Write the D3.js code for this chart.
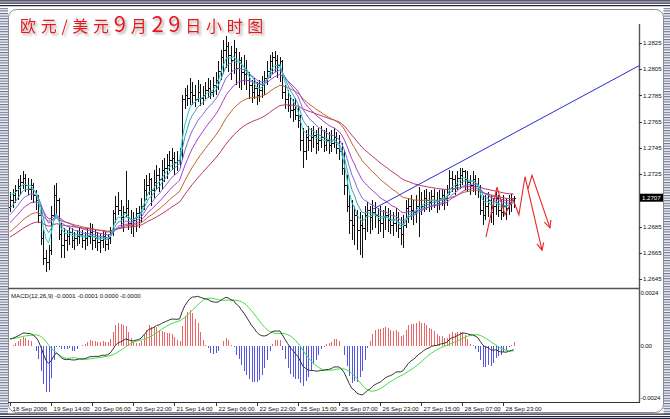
<!DOCTYPE html>
<html><head><meta charset="utf-8">
<script src="https://cdn.jsdelivr.net/npm/d3@7"></script>
<style>
body{margin:0;background:#fff}
svg{display:block}
.ax text{font-family:"Liberation Sans",Arial,sans-serif;font-size:6.1px;fill:#111}
</style>
</head><body><svg id="c" width="670" height="419"></svg>
<script>
// ---------- data (EUR/USD hourly, 18 Sep 22:00 – 29 Sep 2006) ----------
const high = [
1.2711,1.2714,1.2717,1.2721,1.2724,1.2727,1.2725,1.2722,1.2721,1.2718,
1.2713,1.2709,1.2701,1.2682,1.2667,1.2671,1.2701,1.2717,1.2718,1.2707,
1.2688,1.2684,1.2682,1.2685,1.2684,1.2681,1.2682,1.2684,1.2682,1.2681,
1.2684,1.2688,1.2687,1.2682,1.2681,1.2679,1.2682,1.2681,1.2679,1.2685,
1.2698,1.2708,1.2711,1.2705,1.2701,1.2727,1.2705,1.2698,1.2696,1.2699,
1.2701,1.2707,1.2721,1.2724,1.2726,1.2722,1.2728,1.2732,1.2730,1.2736,
1.2737,1.2740,1.2743,1.2745,1.2742,1.2743,1.2745,1.2785,1.2791,1.2793,
1.2798,1.2795,1.2793,1.2797,1.2794,1.2792,1.2795,1.2798,1.2797,1.2799,
1.2803,1.2811,1.2820,1.2827,1.2830,1.2826,1.2823,1.2827,1.2821,1.2818,
1.2814,1.2816,1.2812,1.2803,1.2797,1.2798,1.2795,1.2797,1.2800,1.2804,
1.2811,1.2816,1.2818,1.2819,1.2816,1.2814,1.2812,1.2793,1.2789,1.2785,
1.2782,1.2783,1.2778,1.2770,1.2760,1.2759,1.2762,1.2760,1.2762,1.2759,
1.2760,1.2762,1.2759,1.2760,1.2757,1.2759,1.2760,1.2757,1.2755,1.2749,
1.2743,1.2724,1.2709,1.2705,1.2701,1.2698,1.2696,1.2694,1.2701,1.2704,
1.2701,1.2705,1.2704,1.2699,1.2701,1.2698,1.2701,1.2699,1.2698,1.2696,
1.2699,1.2696,1.2692,1.2694,1.2705,1.2707,1.2709,1.2705,1.2709,1.2715,
1.2711,1.2713,1.2714,1.2711,1.2713,1.2714,1.2711,1.2713,1.2714,1.2713,
1.2717,1.2728,1.2727,1.2724,1.2727,1.2730,1.2730,1.2728,1.2727,1.2724,
1.2727,1.2724,1.2722,1.2717,1.2709,1.2709,1.2711,1.2709,1.2707,1.2711,
1.2709,1.2705,1.2709,1.2707,1.2709,1.2710,1.2708];
const low = [
1.2696,1.2699,1.2703,1.2705,1.2709,1.2714,1.2711,1.2709,1.2705,1.2703,
1.2698,1.2688,1.2671,1.2656,1.2650,1.2652,1.2663,1.2690,1.2694,1.2675,
1.2661,1.2661,1.2666,1.2671,1.2669,1.2667,1.2670,1.2672,1.2669,1.2667,
1.2670,1.2672,1.2667,1.2669,1.2666,1.2665,1.2669,1.2666,1.2667,1.2672,
1.2678,1.2688,1.2694,1.2684,1.2681,1.2692,1.2682,1.2679,1.2677,1.2681,
1.2684,1.2688,1.2698,1.2705,1.2709,1.2701,1.2707,1.2713,1.2711,1.2714,
1.2719,1.2721,1.2727,1.2728,1.2724,1.2727,1.2730,1.2736,1.2775,1.2777,
1.2778,1.2778,1.2776,1.2780,1.2777,1.2778,1.2782,1.2783,1.2782,1.2784,
1.2785,1.2789,1.2797,1.2801,1.2806,1.2803,1.2797,1.2801,1.2793,1.2791,
1.2789,1.2793,1.2789,1.2782,1.2779,1.2782,1.2778,1.2780,1.2783,1.2785,
1.2793,1.2798,1.2801,1.2803,1.2798,1.2795,1.2782,1.2775,1.2772,1.2768,
1.2765,1.2766,1.2760,1.2743,1.2730,1.2736,1.2743,1.2742,1.2745,1.2740,
1.2743,1.2745,1.2742,1.2743,1.2740,1.2742,1.2745,1.2740,1.2736,1.2724,
1.2709,1.2696,1.2679,1.2675,1.2671,1.2667,1.2663,1.2661,1.2675,1.2681,
1.2679,1.2682,1.2684,1.2679,1.2681,1.2676,1.2682,1.2681,1.2679,1.2678,
1.2681,1.2676,1.2671,1.2669,1.2684,1.2688,1.2690,1.2686,1.2688,1.2677,
1.2694,1.2696,1.2698,1.2696,1.2698,1.2699,1.2695,1.2698,1.2701,1.2698,
1.2701,1.2709,1.2711,1.2709,1.2713,1.2714,1.2717,1.2713,1.2711,1.2709,
1.2711,1.2709,1.2707,1.2694,1.2686,1.2690,1.2692,1.2688,1.2686,1.2694,
1.2692,1.2690,1.2692,1.2690,1.2694,1.2696,1.2699];
const close = [
1.2705,1.2709,1.2713,1.2716,1.2719,1.2722,1.2717,1.2714,1.2717,1.2709,
1.2705,1.2694,1.2676,1.2661,1.2658,1.2667,1.2694,1.2709,1.2705,1.2679,
1.2671,1.2675,1.2678,1.2681,1.2675,1.2676,1.2678,1.2679,1.2675,1.2676,
1.2678,1.2681,1.2675,1.2676,1.2673,1.2675,1.2678,1.2672,1.2676,1.2682,
1.2695,1.2701,1.2698,1.2692,1.2696,1.2699,1.2688,1.2686,1.2690,1.2695,
1.2696,1.2701,1.2713,1.2717,1.2721,1.2713,1.2719,1.2724,1.2721,1.2728,
1.2730,1.2732,1.2736,1.2737,1.2734,1.2736,1.2740,1.2782,1.2785,1.2783,
1.2788,1.2785,1.2782,1.2788,1.2783,1.2785,1.2789,1.2791,1.2788,1.2793,
1.2797,1.2804,1.2814,1.2820,1.2823,1.2816,1.2812,1.2818,1.2806,1.2812,
1.2803,1.2801,1.2797,1.2793,1.2788,1.2791,1.2785,1.2789,1.2793,1.2798,
1.2804,1.2811,1.2814,1.2812,1.2808,1.2811,1.2788,1.2782,1.2778,1.2774,
1.2775,1.2770,1.2766,1.2751,1.2743,1.2753,1.2751,1.2753,1.2755,1.2749,
1.2751,1.2753,1.2747,1.2751,1.2747,1.2749,1.2753,1.2745,1.2743,1.2730,
1.2717,1.2701,1.2690,1.2686,1.2694,1.2682,1.2686,1.2684,1.2694,1.2698,
1.2692,1.2696,1.2694,1.2690,1.2688,1.2692,1.2694,1.2690,1.2686,1.2688,
1.2692,1.2684,1.2679,1.2686,1.2699,1.2701,1.2698,1.2696,1.2701,1.2705,
1.2701,1.2707,1.2705,1.2704,1.2708,1.2705,1.2703,1.2707,1.2709,1.2707,
1.2711,1.2722,1.2721,1.2717,1.2722,1.2724,1.2727,1.2721,1.2719,1.2717,
1.2721,1.2716,1.2713,1.2698,1.2694,1.2701,1.2705,1.2696,1.2701,1.2707,
1.2698,1.2696,1.2701,1.2699,1.2704,1.2705,1.2707];
const firstOpen = 1.2700;
const timeLabels = ["18 Sep 2006","19 Sep 14:00","20 Sep 06:00","20 Sep 22:00","21 Sep 14:00",
  "22 Sep 06:00","22 Sep 22:00","25 Sep 15:00","26 Sep 07:00","26 Sep 23:00","27 Sep 15:00",
  "28 Sep 07:00","28 Sep 23:00"];
const labelEvery = 16;
const priceTicks = [1.2645,1.2665,1.2685,1.2725,1.2745,1.2765,1.2785,1.2805,1.2825];
const lastPrice = 1.2707;
const macdTicks = [0.0024,0,-0.0024];
const macdTickLabels = ["0.0024","0.00","-0.0024"];
// moving averages (EMA) – periods and values at first visible bar
const maPeriods = [5,8,13,21,34,55];
const maSeeds = [1.2710,1.2699,1.2694,1.2688,1.2681,1.2677];
// MACD(12,26,9): EMA12 / EMA26 values at first visible bar
const macdParams = [12,26,9];
const macdSeeds = [1.2703,1.2700];
const histGain = 2.5;
// annotations (bar index, price)
const trendAnchors = [[141,1.2698],[176,1.2735]];
const arrowA = [[185.2,1.2677],[189.5,1.2715],[192.6,1.2694],[195.7,1.2706],[198,1.2694],[200.4,1.2723],[207,1.2667]];
const arrowB = [[201.6,1.2714],[203.1,1.2724],[210.1,1.2684]];
const title = [["欧元/美元",16],["9",22],["月",16],["29",22],["日小时图",16]];
const macdTitle = "MACD(12,26,9) -0.0001 -0.0001 0.0000 -0.0000";

// ---------- styles ----------
const maColors = ["#28cccc","#3c9fb4","#7a6ae0","#a63cc8","#c0602c","#c0306a"];

// ---------- scales ----------
const svg = d3.select("#c");
const N = close.length;
const L = 8, R = 639, T = 24, PB = 288, MT = 290, MB = 402;
const x = d3.scaleLinear().domain([0, N-1]).range([10, 10 + (N-1)*2.57]);
const y = d3.scaleLinear().domain([1.2645, 1.2825]).range([279, 43]);
const ym = d3.scaleLinear().domain([-0.0024, 0.0024]).range([398, 293]);

const defs = svg.append("defs");
defs.append("clipPath").attr("id","cpMain").append("rect").attr("x",L).attr("y",T).attr("width",R-L).attr("height",PB-T);
defs.append("clipPath").attr("id","cpMacd").append("rect").attr("x",L).attr("y",MT).attr("width",R-L).attr("height",MB-MT);
const f = defs.append("filter").attr("id","sh").attr("x","-10%").attr("y","-20%").attr("width","130%").attr("height","160%");
f.append("feDropShadow").attr("dx",2).attr("dy",2).attr("stdDeviation",1.3).attr("flood-color","#777").attr("flood-opacity",0.6);
const pat = defs.append("pattern").attr("id","stripes").attr("width",4).attr("height",2.6).attr("patternUnits","userSpaceOnUse");
pat.append("rect").attr("width",4).attr("height",2.6).attr("fill","#f4f4f8");
pat.append("rect").attr("width",4).attr("height",1.1).attr("fill","#6b7190");

svg.append("rect").attr("width",670).attr("height",419).attr("fill","#fff");

// ---------- indicators computed from closes ----------
function ema(src, p, seed){ const k = 2/(p+1); let e = seed; return src.map((v,i)=> i===0 ? e : (e = e + k*(v-e))); }
const mas = maPeriods.map((p,j)=> ema(close, p, maSeeds[j]));
const e12 = ema(close, macdParams[0], macdSeeds[0]);
const e26 = ema(close, macdParams[1], macdSeeds[1]);
const macd = e12.map((v,i)=> v - e26[i]);
const signal = macd.map((v,i)=> d3.mean(macd.slice(Math.max(0,i-macdParams[2]+1), i+1)));
const hist = macd.map((v,i)=> histGain*(v - signal[i]));

// ---------- main panel ----------
const gm = svg.append("g").attr("clip-path","url(#cpMain)");
const px = i => Math.round(x(i)) + 0.5;
const bars = gm.append("g").attr("stroke","#111").attr("stroke-width",1).attr("shape-rendering","crispEdges");
close.forEach((c,i)=>{
  const o = i===0 ? firstOpen : close[i-1];
  const xi = px(i);
  bars.append("line").attr("x1",xi).attr("x2",xi).attr("y1",y(high[i])).attr("y2",y(low[i]));
  bars.append("line").attr("x1",xi-1.2).attr("x2",xi).attr("y1",Math.round(y(o))+0.5).attr("y2",Math.round(y(o))+0.5);
  bars.append("line").attr("x1",xi).attr("x2",xi+1.2).attr("y1",Math.round(y(c))+0.5).attr("y2",Math.round(y(c))+0.5);
});
const line = d3.line().x((d,i)=>x(i)).y(d=>y(d));
mas.slice().reverse().forEach((m,k)=>{
  gm.append("path").attr("d",line(m)).attr("fill","none").attr("stroke",maColors[maColors.length-1-k]).attr("stroke-width",1);
});
// trend line (ray to right edge)
const slope = (trendAnchors[1][1]-trendAnchors[0][1])/(trendAnchors[1][0]-trendAnchors[0][0]);
const iEnd = x.invert(R);
gm.append("line").attr("x1",x(trendAnchors[0][0])).attr("y1",y(trendAnchors[0][1]))
  .attr("x2",x(iEnd)).attr("y2",y(trendAnchors[0][1] + slope*(iEnd-trendAnchors[0][0])))
  .attr("stroke","#2a2ad8").attr("stroke-width",1);
// red arrows
const aLine = d3.line().x(d=>x(d[0])).y(d=>y(d[1]));
function arrow(pts){
  gm.append("path").attr("d",aLine(pts)).attr("fill","none").attr("stroke","#e8262a").attr("stroke-width",1.1);
  const a = pts[pts.length-2], b = pts[pts.length-1];
  const ax = x(a[0]), ay = y(a[1]), bx = x(b[0]), by = y(b[1]);
  const ang = Math.atan2(by-ay, bx-ax), len = 8, spread = 0.45;
  const p1 = [bx - len*Math.cos(ang-spread), by - len*Math.sin(ang-spread)];
  const p2 = [bx - len*Math.cos(ang+spread), by - len*Math.sin(ang+spread)];
  gm.append("path").attr("d",`M${p1}L${bx},${by}L${p2}`).attr("fill","none").attr("stroke","#e8262a").attr("stroke-width",1.1);
}
arrow(arrowA); arrow(arrowB);

// ---------- MACD panel ----------
const gd = svg.append("g").attr("clip-path","url(#cpMacd)");
const hg = gd.append("g").attr("shape-rendering","crispEdges");
hist.forEach((h,i)=>{
  hg.append("line").attr("x1",px(i)).attr("x2",px(i)).attr("y1",ym(0)).attr("y2",ym(h))
    .attr("stroke", h>=0 ? "#ee6464" : "#5454e6").attr("stroke-width",1);
});
const mline = d3.line().x((d,i)=>x(i)).y(d=>ym(d));
gd.append("path").attr("d",mline(signal)).attr("fill","none").attr("stroke","#3ee03e").attr("stroke-width",1);
gd.append("path").attr("d",mline(macd)).attr("fill","none").attr("stroke","#333").attr("stroke-width",1);

// ---------- outer frame (stripes first so labels stay readable) ----------
svg.append("rect").attr("x",0).attr("y",8).attr("width",8).attr("height",406).attr("fill","url(#stripes)");
svg.append("rect").attr("x",663.5).attr("y",8).attr("width",6.5).attr("height",406).attr("fill","url(#stripes)");
svg.append("rect").attr("x",8.5).attr("y",9.5).attr("width",655).attr("height",403).attr("rx",8)
  .attr("fill","none").attr("stroke","#8a8a8a").attr("stroke-width",1);
[0.8,3.2,5.6].forEach(v=> svg.append("line").attr("x1",0).attr("x2",670).attr("y1",v).attr("y2",v).attr("stroke","#23233f").attr("stroke-width",1.3));
[414.2,416.6,418.6].forEach(v=> svg.append("line").attr("x1",0).attr("x2",670).attr("y1",v).attr("y2",v).attr("stroke","#23233f").attr("stroke-width",1.3));

// ---------- axes ----------
const ax = svg.append("g").attr("class","ax");
ax.append("line").attr("x1",R+0.5).attr("x2",R+0.5).attr("y1",T).attr("y2",MB).attr("stroke","#555").attr("stroke-width",1.4);
ax.append("line").attr("x1",L).attr("x2",R+1).attr("y1",PB+0.5).attr("y2",PB+0.5).attr("stroke","#555").attr("stroke-width",1.6);
ax.append("line").attr("x1",L).attr("x2",R+1).attr("y1",MB+0.5).attr("y2",MB+0.5).attr("stroke","#333").attr("stroke-width",1.2);
priceTicks.forEach(p=>{
  ax.append("line").attr("x1",R).attr("x2",R+3).attr("y1",Math.round(y(p))+0.5).attr("y2",Math.round(y(p))+0.5).attr("stroke","#333");
  ax.append("text").attr("x",R+4).attr("y",y(p)+2.2).text(p.toFixed(4));
});
ax.append("rect").attr("x",R+1).attr("y",y(lastPrice)-4).attr("width",23).attr("height",8).attr("fill","#000");
ax.append("text").attr("x",R+3).attr("y",y(lastPrice)+2.3).attr("fill","#fff").style("fill","#fff").text(lastPrice.toFixed(4));
macdTicks.forEach((v,k)=>{
  ax.append("text").attr("x",R+1.5).attr("y",ym(v)+2.2).style("letter-spacing","-0.15px").text(macdTickLabels[k]);
});
ax.append("text").attr("x",11).attr("y",297.5).text(macdTitle);
timeLabels.forEach((t,k)=>{
  const xi = px(k*labelEvery);
  ax.append("line").attr("x1",xi).attr("x2",xi).attr("y1",MB).attr("y2",MB+4).attr("stroke","#333");
  ax.append("text").attr("x",xi+2).attr("y",410.5).text(t);
});

// ---------- title ----------
const tt = svg.append("text").attr("x",20).attr("y",32).attr("fill","#e8141c")
  .attr("filter","url(#sh)").style("letter-spacing","4.7px")
  .style("font-family",'"Noto Sans CJK SC","Liberation Sans",sans-serif');
title.forEach(([s,fs])=> tt.append("tspan").style("font-size",fs+"px").text(s));
</script>
</body></html>
